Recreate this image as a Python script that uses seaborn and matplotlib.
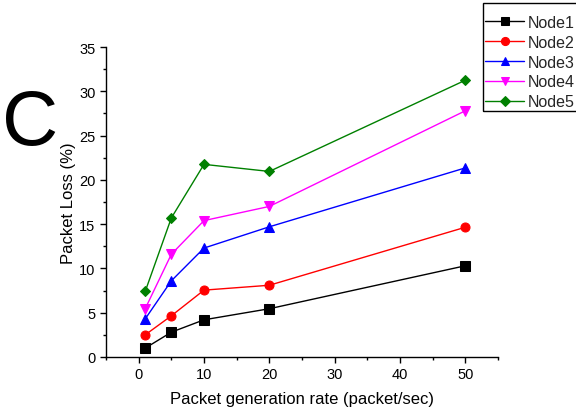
import matplotlib
matplotlib.use("Agg")
import matplotlib.pyplot as plt
import seaborn as sns
import pandas as pd
from matplotlib.ticker import MultipleLocator
from matplotlib.patches import Rectangle

rates = [1, 5, 10, 20, 50]
node1 = [1.0, 2.8, 4.2, 5.45, 10.3]
node2 = [2.5, 4.65, 7.55, 8.1, 14.65]
node3 = [4.3, 8.6, 12.3, 14.7, 21.35]
node4 = [5.45, 11.6, 15.4, 17.0, 27.8]
node5 = [7.4, 15.7, 21.75, 20.95, 31.25]
names = ["Node1", "Node2", "Node3", "Node4", "Node5"]
series = [node1, node2, node3, node4, node5]
colors = ["black", "red", "blue", "magenta", "green"]
markers = ["s", "o", "^", "v", "D"]

sns.set_theme(style="ticks")
plt.rcParams['font.family'] = ['Liberation Sans', 'DejaVu Sans']

W, H = 576, 410
fig = plt.figure(figsize=(5.76, 4.10), dpi=100)
ax = fig.add_axes([106/W, 1 - 358/H, (498 - 106)/W, (358 - 48)/H])

for name, vals, c, m in zip(names, series, colors, markers):
    df = pd.DataFrame({"x": rates, "y": vals})
    sns.lineplot(data=df, x="x", y="y", ax=ax, color=c, marker=m,
                 markersize=6.5 if m != "D" else 5.5, markeredgecolor=c,
                 linewidth=1.0, label=name)

ax.set_xlim(-5, 55)
ax.set_ylim(0, 35)
ax.xaxis.set_major_locator(MultipleLocator(10))
ax.xaxis.set_minor_locator(MultipleLocator(5))
ax.yaxis.set_major_locator(MultipleLocator(5))
ax.yaxis.set_minor_locator(MultipleLocator(2.5))
ax.tick_params(axis='both', which='major', direction='out', length=4, width=1,
               labelsize=10.5, color='black', labelcolor='black')
ax.tick_params(axis='both', which='minor', direction='out', length=2.5, width=1, color='black')
for s in ["top", "right"]:
    ax.spines[s].set_visible(False)
for s in ["left", "bottom"]:
    ax.spines[s].set_color("black")
    ax.spines[s].set_linewidth(1.0)

ax.set_xlabel("Packet generation rate (packet/sec)", fontsize=12, color='black', labelpad=7)
ax.set_ylabel("Packet Loss (%)", fontsize=12, color='black', labelpad=2)

leg = ax.legend(loc="upper left", bbox_to_anchor=(485/W, 1 - 16/H),
                bbox_transform=fig.transFigure, fontsize=11.5, frameon=False,
                handlelength=2.45, handletextpad=0.25, labelspacing=0.3,
                borderpad=0, borderaxespad=0, markerscale=0.9)

frame = Rectangle((483/W, 1 - 112/H), (600 - 483)/W, (112 - 4)/H,
                  transform=fig.transFigure, fill=False, edgecolor='black',
                  linewidth=1.0, clip_on=False)
fig.add_artist(frame)

fig.text(30/W, 1 - 124/H, "C", fontsize=56, ha="center", va="center", color="black")

fig.savefig("out.png", dpi=100)
